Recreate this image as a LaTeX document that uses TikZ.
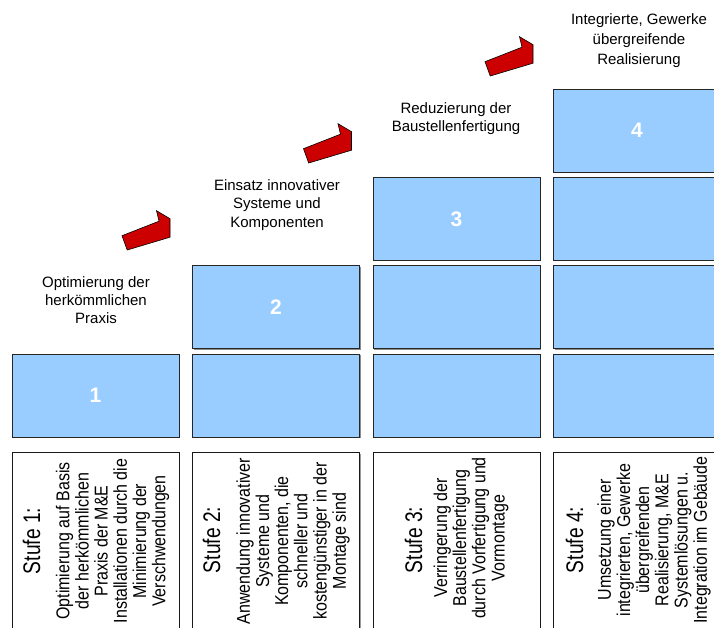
\documentclass[tikz,border=0pt]{standalone}
\usepackage{fontspec}
\setmainfont{Liberation Sans}
\newfontfamily\stufefont[FakeStretch=0.8]{Liberation Sans}
\newfontfamily\descfont[FakeStretch=0.86]{Liberation Sans}
\usetikzlibrary{shadows}
\definecolor{boxblue}{HTML}{99CCFF}
\definecolor{arrowred}{HTML}{CC0000}
\tikzset{
  bluebox/.style={rectangle, draw=black!85, line width=0.8pt, fill=boxblue,
    minimum width=167pt, minimum height=83pt, inner sep=0pt, text=white,
    font=\fontsize{21}{21}\selectfont\bfseries,
    drop shadow={shadow xshift=1pt, shadow yshift=-1pt, fill=black!45, opacity=1}},
  stufebox/.style={rectangle, draw=black!90, line width=0.8pt, fill=white,
    minimum width=167pt, minimum height=188pt, inner sep=0pt,
    drop shadow={shadow xshift=1pt, shadow yshift=-1pt, fill=black!40, opacity=1}},
  toplabel/.style={anchor=north, inner sep=0pt, align=center,
    font=\fontsize{15}{18.3}\selectfont},
  stufetext/.style={anchor=base, inner sep=0pt, rotate=90,
    font=\stufefont\fontsize{24}{24}\selectfont},
  desctext/.style={anchor=center, inner sep=0pt, rotate=90, align=center,
    font=\descfont\fontsize{18.6}{19.2}\selectfont},
  arrowstyle/.style={fill=arrowred, draw=black, line width=0.6pt, line join=miter},
  redarrow/.pic={\draw[arrowstyle] (0,0) -- (37,-14.5) -- (34.5,-25) -- (48,-17)
    -- (48,1.5) -- (5.2,14.3) -- cycle;}
}
\begin{document}
\begin{tikzpicture}[x=1pt,y=-1pt]
\useasboundingbox (0,0) rectangle (714,628);
\clip (0,0) rectangle (714,628);

% blue staircase boxes
\node[bluebox] (b1d) at (95.5,395.7) {1};

\node[bluebox] (b2c) at (276,307.3) {2};
\node[bluebox] (b2d) at (276,395.7) {};

\node[bluebox] (b3b) at (456.5,218.9) {3};
\node[bluebox] (b3c) at (456.5,307.3) {};
\node[bluebox] (b3d) at (456.5,395.7) {};

\node[bluebox] (b4a) at (637,130.5) {4};
\node[bluebox] (b4b) at (637,218.9) {};
\node[bluebox] (b4c) at (637,307.3) {};
\node[bluebox] (b4d) at (637,395.7) {};

% bottom description boxes
\node[stufebox] (s1) at (95.5,546.5) {};
\node[stufebox] (s2) at (276,546.5) {};
\node[stufebox] (s3) at (456.5,546.5) {};
\node[stufebox] (s4) at (637,546.5) {};

% rotated texts
\node[stufetext] (st1) at (40,541) {Stufe 1:};
\node[desctext] (d1) at (112.5,541) {Optimierung auf Basis\\der herkömmlichen\\Praxis der M\&E\\Installationen durch die\\Minimierung der\\Verschwendungen};

\node[stufetext] (st2) at (220,540) {Stufe 2:};
\node[desctext] (d2) at (293,541) {Anwendung innovativer\\Systeme und\\Komponenten, die\\schneller und\\kostengünstiger in der\\Montage sind};

\node[stufetext] (st3) at (422,540) {Stufe 3:};
\node[desctext] (d3) at (471,538) {Verringerung der\\Baustellenfertigung\\durch Vorfertigung und\\Vormontage};

\node[stufetext] (st4) at (583,540) {Stufe 4:};
\node[desctext] (d4) at (654,540) {Umsetzung einer\\integrierten, Gewerke\\übergreifenden\\Realisierung, M\&E\\Systemlösungen u.\\Integration im Gebäude};

% top labels
\node[toplabel] (l1) at (96,276) {Optimierung der\\herkömmlichen\\Praxis};
\node[toplabel] (l2) at (277,179.5) {Einsatz innovativer\\Systeme und\\Komponenten};
\node[toplabel] (l3) at (456,102) {Reduzierung der\\Baustellenfertigung};
\node[toplabel, font=\fontsize{15}{20}\selectfont] (l4) at (639,13) {Integrierte, Gewerke\\übergreifende\\Realisierung};

% red arrows
\pic (a1) at (122,235.7) {redarrow};
\pic (a2) at (303.5,148.7) {redarrow};
\pic (a3) at (485,61.7) {redarrow};
\end{tikzpicture}
\end{document}
